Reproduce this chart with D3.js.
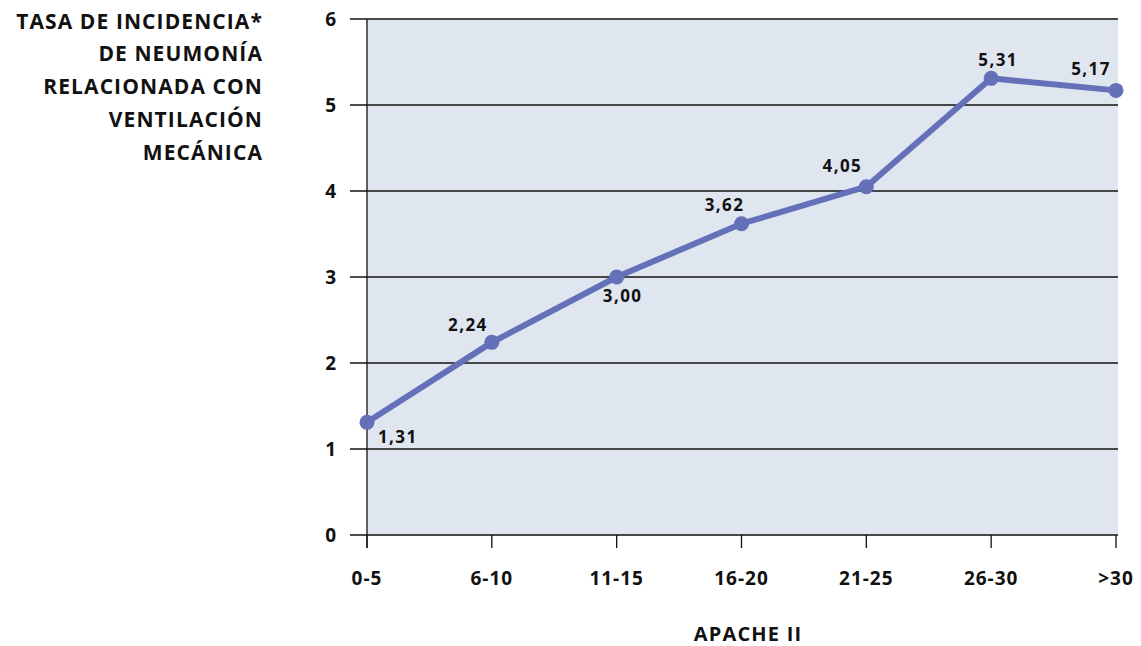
<!DOCTYPE html>
<html><head><meta charset="utf-8">
<script src="https://cdn.jsdelivr.net/npm/d3@7"></script>
<style>body{margin:0;background:#fff;} text{font-family:"Open Sans","Noto Sans",sans-serif;font-weight:700;fill:#111;}</style>
</head><body>
<svg id="c" width="1141" height="646"></svg>
<script>
const categories = ["0-5","6-10","11-15","16-20","21-25","26-30",">30"];
const values = [1.31, 2.24, 3.00, 3.62, 4.05, 5.31, 5.17];
const valueLabels = ["1,31","2,24","3,00","3,62","4,05","5,31","5,17"];
const yTicks = [0,1,2,3,4,5,6];
const titleLines = ["TASA DE INCIDENCIA*","DE NEUMONÍA","RELACIONADA CON","VENTILACIÓN","MECÁNICA"];
const xTitle = "APACHE II";
// label placement (dx, dy, anchor) relative to each point
const labelPlacement = [[11,15,"start"],[-24,-17,"middle"],[6,19,"middle"],[-17,-19,"middle"],[-24,-21,"middle"],[7,-18,"middle"],[-25,-22,"middle"]];

const svg = d3.select("#c");
const m = {left:367, right:1118, top:19, bottom:535};
const x = d3.scalePoint().domain(categories).range([m.left, 1116]);
const y = d3.scaleLinear().domain([0,6]).range([m.bottom, m.top]);

svg.append("rect").attr("x",m.left).attr("y",m.top).attr("width",m.right-m.left).attr("height",m.bottom-m.top).attr("fill","#dfe6f0");

svg.append("g").selectAll("line").data(yTicks).join("line")
  .attr("x1",350).attr("x2",m.right).attr("y1",d=>y(d)).attr("y2",d=>y(d))
  .attr("stroke","#111").attr("stroke-width",1.3);

svg.append("line").attr("x1",m.left).attr("x2",m.left).attr("y1",m.top).attr("y2",548).attr("stroke","#111").attr("stroke-width",1.3);
svg.append("g").selectAll("line").data(categories).join("line")
  .attr("x1",d=>x(d)).attr("x2",d=>x(d)).attr("y1",m.bottom).attr("y2",548)
  .attr("stroke","#111").attr("stroke-width",1.3);

svg.append("g").selectAll("text").data(yTicks).join("text")
  .attr("x",337).attr("y",d=>y(d)).attr("dy","0.36em").attr("text-anchor","end")
  .attr("font-size",19).attr("letter-spacing",1).text(d=>d);
svg.append("g").selectAll("text").data(categories).join("text")
  .attr("x",d=>x(d)).attr("y",578).attr("dy","0.36em").attr("text-anchor","middle")
  .attr("font-size",19).attr("letter-spacing",1).text(d=>d);

svg.append("text").attr("x",748).attr("y",634).attr("dy","0.36em").attr("text-anchor","middle").attr("font-size",20).attr("letter-spacing",1.2).text(xTitle);

svg.append("g").selectAll("text").data(titleLines).join("text")
  .attr("x",263).attr("y",(d,i)=>21+i*32.8).attr("dy","0.36em").attr("text-anchor","end")
  .attr("font-size",21).attr("letter-spacing",1.1).text(d=>d);

const pts = categories.map((c,i)=>({c, v:values[i], l:valueLabels[i], p:labelPlacement[i]}));
svg.append("path").datum(pts)
  .attr("d", d3.line().x(d=>x(d.c)).y(d=>y(d.v)))
  .attr("fill","none").attr("stroke","#6470b8").attr("stroke-width",6).attr("stroke-linejoin","round");
svg.append("g").selectAll("circle").data(pts).join("circle")
  .attr("cx",d=>x(d.c)).attr("cy",d=>y(d.v)).attr("r",7.5).attr("fill","#6470b8");
svg.append("g").selectAll("text").data(pts).join("text")
  .attr("x",d=>x(d.c)+d.p[0]).attr("y",d=>y(d.v)+d.p[1]).attr("dy","0.36em")
  .attr("text-anchor",d=>d.p[2]).attr("font-size",17).attr("letter-spacing",1.4).text(d=>d.l);
</script>
</body></html>
